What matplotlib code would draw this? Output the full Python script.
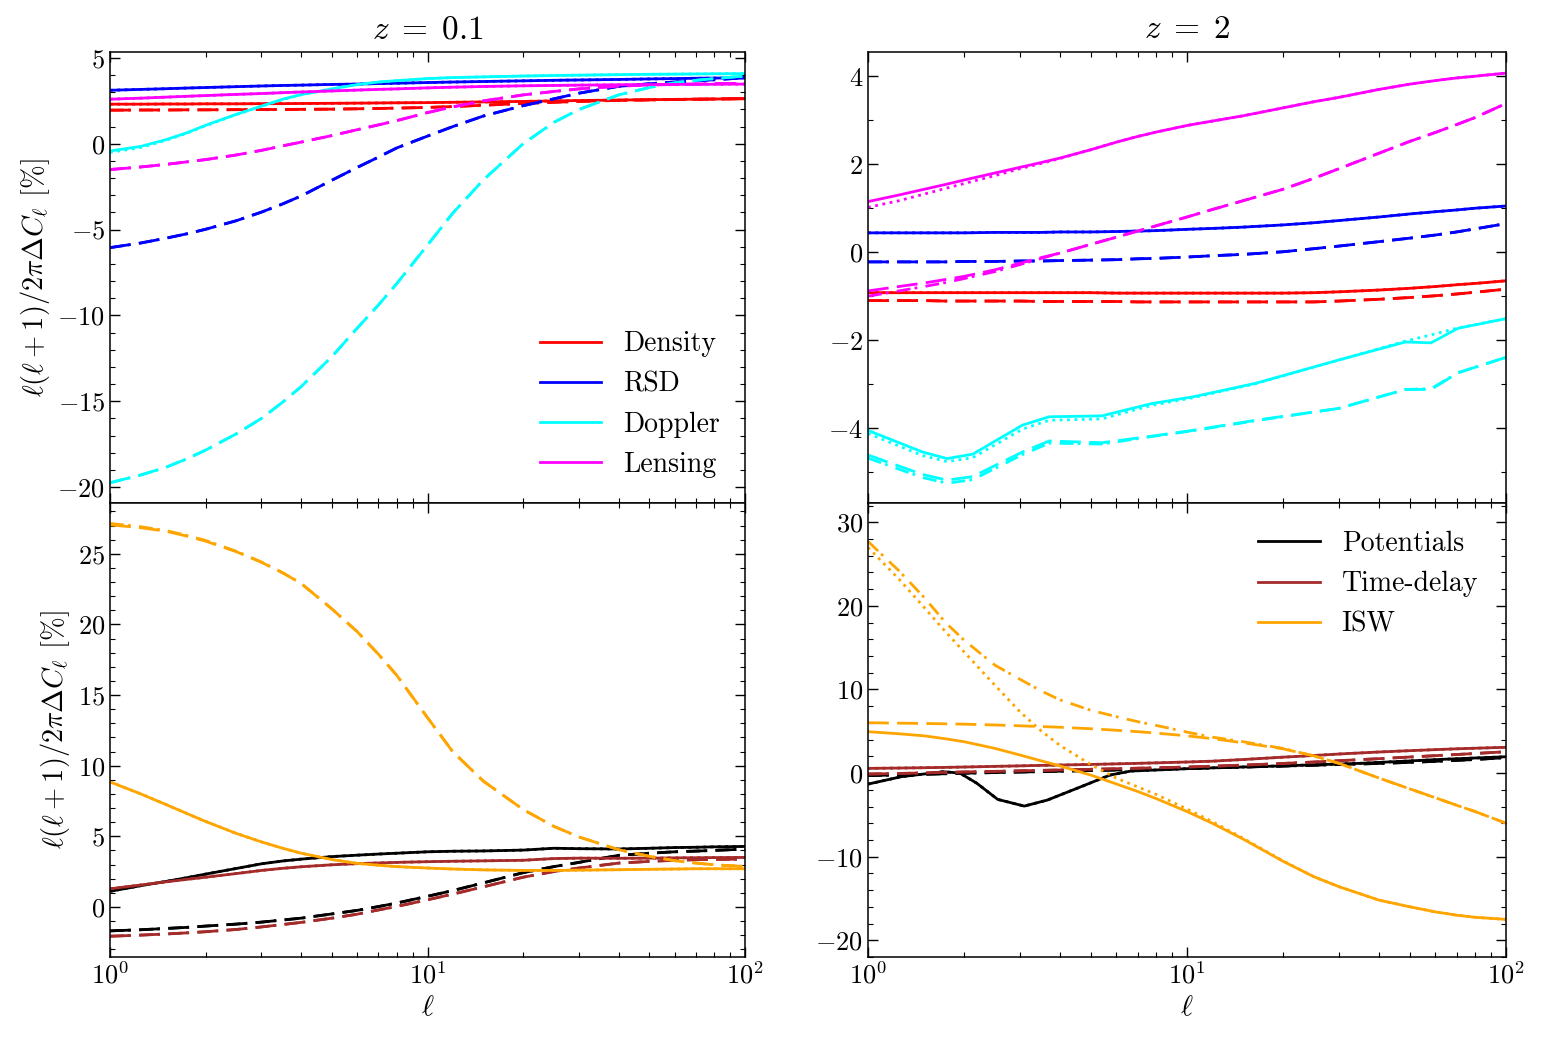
import matplotlib
matplotlib.use('Agg')
import matplotlib.pyplot as plt
from matplotlib.ticker import MultipleLocator, LogLocator, NullFormatter

plt.rcParams.update({
    'font.family': 'serif', 'font.serif': ['cmr10'], 'mathtext.fontset': 'cm',
    'axes.formatter.use_mathtext': True, 'font.size': 19,
})

# ---------------- data ----------------
ELL = [1, 1.25, 1.5, 1.75, 2, 2.5, 3, 3.5, 4, 5, 6, 7, 8, 10, 12, 15, 20, 25, 30, 40, 50, 60, 70, 80, 100]

# z = 0.1, top panel
tl_density_solid = [2.31, 2.31, 2.32, 2.32, 2.33, 2.33, 2.34, 2.34, 2.35, 2.36, 2.37, 2.38, 2.39, 2.40, 2.42, 2.44, 2.47, 2.50, 2.52, 2.55, 2.57, 2.59, 2.60, 2.61, 2.63]
tl_density_dashed = [1.96, 1.97, 1.97, 1.98, 1.98, 1.99, 2.00, 2.00, 2.01, 2.02, 2.04, 2.06, 2.08, 2.12, 2.17, 2.25, 2.35, 2.42, 2.47, 2.53, 2.56, 2.58, 2.60, 2.61, 2.63]
tl_rsd_solid = [3.12, 3.17, 3.21, 3.25, 3.28, 3.33, 3.37, 3.40, 3.42, 3.46, 3.48, 3.51, 3.53, 3.57, 3.60, 3.63, 3.67, 3.70, 3.72, 3.75, 3.78, 3.80, 3.82, 3.83, 3.85]
tl_rsd_dashed = [-6.05, -5.78, -5.50, -5.24, -4.98, -4.48, -3.98, -3.50, -3.04, -2.12, -1.38, -0.78, -0.24, 0.45, 1.00, 1.62, 2.22, 2.62, 2.95, 3.35, 3.50, 3.60, 3.67, 3.73, 3.85]
tl_doppler_solid = [-0.42, -0.15, 0.24, 0.65, 1.08, 1.72, 2.20, 2.60, 2.87, 3.20, 3.45, 3.60, 3.68, 3.80, 3.86, 3.90, 3.95, 3.98, 4.00, 4.03, 4.05, 4.06, 4.07, 4.08, 4.09]
tl_doppler_dotted = [-0.50, -0.22, 0.20, 0.62, 1.05, 1.70, 2.18, 2.58, 2.86, 3.20, 3.45, 3.60, 3.68, 3.80, 3.86, 3.90, 3.95, 3.98, 4.00, 4.03, 4.05, 4.06, 4.07, 4.08, 4.09]
tl_doppler_dashed = [-19.75, -19.30, -18.85, -18.35, -17.85, -16.90, -16.00, -15.05, -14.15, -12.40, -10.75, -9.40, -8.15, -5.90, -4.05, -2.10, 0.00, 1.25, 2.00, 2.85, 3.28, 3.55, 3.70, 3.80, 3.95]
tl_lensing_solid = [2.60, 2.66, 2.72, 2.77, 2.81, 2.88, 2.93, 2.98, 3.02, 3.08, 3.13, 3.17, 3.20, 3.26, 3.30, 3.34, 3.38, 3.40, 3.42, 3.44, 3.45, 3.46, 3.47, 3.47, 3.48]
tl_lensing_dashed = [-1.50, -1.35, -1.20, -1.05, -0.92, -0.65, -0.38, -0.12, 0.10, 0.48, 0.82, 1.10, 1.35, 1.82, 2.15, 2.50, 2.85, 3.05, 3.20, 3.36, 3.43, 3.46, 3.48, 3.50, 3.53]

# z = 2, top panel
tr_density_solid = [-0.92, -0.92, -0.92, -0.92, -0.92, -0.92, -0.92, -0.92, -0.92, -0.92, -0.93, -0.93, -0.93, -0.93, -0.93, -0.93, -0.93, -0.92, -0.90, -0.86, -0.82, -0.78, -0.74, -0.71, -0.65]
tr_density_dashed = [-1.10, -1.10, -1.10, -1.11, -1.11, -1.11, -1.11, -1.12, -1.12, -1.12, -1.12, -1.13, -1.13, -1.13, -1.13, -1.13, -1.13, -1.13, -1.11, -1.07, -1.03, -0.99, -0.95, -0.91, -0.84]
tr_rsd_solid = [0.44, 0.44, 0.44, 0.44, 0.44, 0.45, 0.45, 0.45, 0.46, 0.46, 0.47, 0.48, 0.49, 0.52, 0.54, 0.57, 0.62, 0.67, 0.72, 0.80, 0.87, 0.92, 0.96, 1.00, 1.05]
tr_rsd_dashed = [-0.22, -0.22, -0.22, -0.22, -0.21, -0.21, -0.20, -0.20, -0.19, -0.18, -0.17, -0.15, -0.14, -0.11, -0.08, -0.05, 0.01, 0.08, 0.14, 0.24, 0.32, 0.39, 0.46, 0.53, 0.65]
tr_lensing_solid = [1.15, 1.30, 1.43, 1.54, 1.64, 1.80, 1.93, 2.04, 2.14, 2.33, 2.50, 2.63, 2.73, 2.88, 2.98, 3.10, 3.28, 3.42, 3.52, 3.70, 3.82, 3.90, 3.96, 4.00, 4.07]
tr_lensing_dotted = [1.02, 1.17, 1.32, 1.45, 1.56, 1.74, 1.90, 2.02, 2.13, 2.33, 2.50, 2.63, 2.73, 2.88, 2.98, 3.10, 3.28, 3.42, 3.52, 3.70, 3.82, 3.90, 3.96, 4.00, 4.07]
tr_lensing_dashed = [-0.88, -0.78, -0.70, -0.62, -0.55, -0.40, -0.25, -0.12, -0.02, 0.18, 0.34, 0.48, 0.60, 0.80, 0.97, 1.17, 1.43, 1.68, 1.90, 2.25, 2.52, 2.72, 2.90, 3.06, 3.38]
tr_lensing_dashdot = [-1.00, -0.88, -0.78, -0.69, -0.60, -0.44, -0.28, -0.14, -0.02, 0.18, 0.34, 0.48, 0.60, 0.80, 0.97, 1.17, 1.43, 1.68, 1.90, 2.25, 2.52, 2.72, 2.90, 3.06, 3.38]
ELL_DOP = [1, 1.48, 1.77, 2.13, 3.05, 3.7, 5.4, 7.76, 10.4, 16.4, 29.9, 48.4, 58.2, 70.7, 100]
tr_doppler_solid = [-4.05, -4.54, -4.69, -4.59, -3.93, -3.74, -3.72, -3.44, -3.29, -2.98, -2.45, -2.04, -2.06, -1.73, -1.51]
tr_doppler_dotted = [-4.12, -4.62, -4.76, -4.67, -4.02, -3.82, -3.79, -3.48, -3.31, -2.99, -2.45, -2.02, -1.88, -1.72, -1.51]
tr_doppler_dashed = [-4.61, -5.05, -5.18, -5.10, -4.54, -4.29, -4.33, -4.18, -4.05, -3.82, -3.55, -3.12, -3.12, -2.74, -2.39]
tr_doppler_dashdot = [-4.68, -5.12, -5.25, -5.17, -4.60, -4.34, -4.36, -4.19, -4.06, -3.83, -3.55, -3.12, -3.10, -2.74, -2.39]

# z = 0.1, bottom panel
bl_pot_solid = [1.10, 1.50, 1.80, 2.07, 2.32, 2.72, 3.05, 3.25, 3.38, 3.56, 3.66, 3.74, 3.80, 3.90, 3.94, 3.96, 4.02, 4.15, 4.12, 4.10, 4.15, 4.20, 4.22, 4.25, 4.28]
bl_pot_dashed = [-1.70, -1.62, -1.53, -1.45, -1.36, -1.22, -1.08, -0.93, -0.80, -0.50, -0.25, 0.02, 0.27, 0.75, 1.15, 1.70, 2.42, 2.85, 3.15, 3.65, 3.80, 3.90, 3.95, 4.00, 4.09]
bl_td_solid = [1.28, 1.55, 1.77, 1.95, 2.10, 2.36, 2.58, 2.73, 2.84, 2.98, 3.06, 3.11, 3.15, 3.20, 3.23, 3.26, 3.30, 3.42, 3.45, 3.44, 3.45, 3.47, 3.48, 3.49, 3.50]
bl_td_dashed = [-2.08, -2.00, -1.92, -1.84, -1.76, -1.60, -1.42, -1.25, -1.10, -0.80, -0.52, -0.22, 0.03, 0.50, 0.90, 1.42, 2.10, 2.50, 2.75, 3.10, 3.22, 3.30, 3.34, 3.36, 3.38]
bl_isw_solid = [8.85, 8.00, 7.25, 6.60, 6.05, 5.20, 4.60, 4.15, 3.80, 3.35, 3.08, 2.95, 2.85, 2.75, 2.68, 2.62, 2.58, 2.58, 2.60, 2.63, 2.66, 2.68, 2.70, 2.70, 2.70]
bl_isw_dashed = [27.05, 26.85, 26.60, 26.25, 25.90, 25.15, 24.40, 23.65, 22.90, 21.10, 19.50, 17.90, 16.40, 13.40, 11.00, 8.90, 6.90, 5.70, 4.95, 4.05, 3.58, 3.27, 3.10, 2.98, 2.86]
bl_isw_dashdot = [27.15, 26.92, 26.65, 26.30, 25.95, 25.18, 24.42, 23.66, 22.90, 21.10, 19.50, 17.90, 16.40, 13.40, 11.00, 8.90, 6.90, 5.70, 4.95, 4.05, 3.58, 3.27, 3.10, 2.98, 2.86]

# z = 2, bottom panel
ELL_POT = [1, 1.27, 1.72, 1.94, 2.19, 2.55, 3.09, 3.65, 4.51, 5.74, 6.67, 10.5, 19.1, 34.8, 63, 100]
br_pot_solid = [-1.32, -0.44, 0.16, 0.00, -1.20, -3.15, -3.95, -3.23, -1.84, -0.24, 0.24, 0.56, 0.84, 1.16, 1.64, 1.95]
br_pot_dashed = [-0.30, -0.22, -0.15, -0.08, -0.02, 0.06, 0.12, 0.18, 0.22, 0.30, 0.36, 0.42, 0.46, 0.55, 0.62, 0.72, 0.84, 0.94, 1.02, 1.15, 1.28, 1.40, 1.52, 1.62, 1.85]
br_td_solid = [0.56, 0.60, 0.64, 0.68, 0.72, 0.80, 0.86, 0.92, 0.96, 1.03, 1.10, 1.16, 1.22, 1.32, 1.42, 1.62, 1.90, 2.10, 2.28, 2.52, 2.68, 2.80, 2.90, 2.97, 3.08]
br_td_dashed = [-0.12, -0.05, 0.02, 0.08, 0.13, 0.20, 0.27, 0.32, 0.37, 0.45, 0.52, 0.58, 0.63, 0.72, 0.82, 0.95, 1.15, 1.32, 1.48, 1.72, 1.92, 2.08, 2.22, 2.34, 2.55]
br_isw_solid = [4.95, 4.70, 4.45, 4.10, 3.75, 2.95, 2.15, 1.45, 0.85, -0.25, -1.30, -2.20, -3.05, -4.60, -6.00, -7.90, -10.55, -12.40, -13.60, -15.20, -16.00, -16.60, -17.00, -17.25, -17.50]
br_isw_dotted = [27.00, 23.20, 19.80, 16.90, 14.50, 10.50, 7.30, 5.00, 3.30, 1.00, -0.60, -1.65, -2.55, -4.30, -5.80, -7.80, -10.50, -12.40, -13.60, -15.20, -16.00, -16.60, -17.00, -17.25, -17.50]
br_isw_dashed = [6.02, 5.97, 5.93, 5.89, 5.85, 5.75, 5.65, 5.56, 5.48, 5.30, 5.12, 4.95, 4.78, 4.45, 4.12, 3.62, 2.90, 2.05, 1.15, -0.60, -1.90, -2.95, -3.85, -4.60, -6.00]
br_isw_dashdot = [27.70, 24.20, 21.00, 18.00, 15.90, 12.90, 11.20, 9.80, 8.75, 7.50, 6.75, 6.15, 5.70, 4.90, 4.30, 3.75, 2.95, 2.05, 1.15, -0.60, -1.90, -2.95, -3.85, -4.60, -6.00]

labels_top = ['Density', 'RSD', 'Doppler', 'Lensing']
labels_bot = ['Potentials', 'Time-delay', 'ISW']
titles = [r'$z\;=\;0.1$', r'$z\;=\;2$']
colors_top = ['red', 'blue', 'cyan', 'magenta']
colors_bot = ['black', 'brown', 'orange']

# ---------------- figure ----------------
fig = plt.figure(figsize=(15.41, 10.40), dpi=100)
xl = [110 / 1541, 868 / 1541]
wd = [635 / 1541, 638 / 1541]
ax_tl = fig.add_axes([xl[0], 1 - 503 / 1040, wd[0], 451 / 1040])
ax_tr = fig.add_axes([xl[1], 1 - 503 / 1040, wd[1], 451 / 1040])
ax_bl = fig.add_axes([xl[0], 1 - 957 / 1040, wd[0], 454 / 1040])
ax_br = fig.add_axes([xl[1], 1 - 957 / 1040, wd[1], 454 / 1040])

LW = 2.0
styles = {'solid': '-', 'dotted': (0, (1, 1.65)), 'dashed': (0, (7.5, 3)),
          'dashdot': (0, (5, 1.5, 1, 3))}


def draw(ax, x, y, c, s, label=None):
    ax.plot(x, y, color=c, lw=LW, linestyle=styles[s], label=label)


# top-left
tl_sets = [
    (tl_density_solid, tl_density_solid, tl_density_dashed, tl_density_dashed),
    (tl_rsd_solid, tl_rsd_solid, tl_rsd_dashed, tl_rsd_dashed),
    (tl_doppler_solid, tl_doppler_dotted, tl_doppler_dashed, tl_doppler_dashed),
    (tl_lensing_solid, tl_lensing_solid, tl_lensing_dashed, tl_lensing_dashed),
]
for (s, d, da, dd), c, lab in zip(tl_sets, colors_top, labels_top):
    draw(ax_tl, ELL, s, c, 'solid', lab)
    draw(ax_tl, ELL, d, c, 'dotted')
    draw(ax_tl, ELL, da, c, 'dashed')
    draw(ax_tl, ELL, dd, c, 'dashdot')

# top-right
draw(ax_tr, ELL, tr_density_solid, 'red', 'solid')
draw(ax_tr, ELL, tr_density_solid, 'red', 'dotted')
draw(ax_tr, ELL, tr_density_dashed, 'red', 'dashed')
draw(ax_tr, ELL, tr_density_dashed, 'red', 'dashdot')
draw(ax_tr, ELL, tr_rsd_solid, 'blue', 'solid')
draw(ax_tr, ELL, tr_rsd_solid, 'blue', 'dotted')
draw(ax_tr, ELL, tr_rsd_dashed, 'blue', 'dashed')
draw(ax_tr, ELL, tr_rsd_dashed, 'blue', 'dashdot')
draw(ax_tr, ELL_DOP, tr_doppler_solid, 'cyan', 'solid')
draw(ax_tr, ELL_DOP, tr_doppler_dotted, 'cyan', 'dotted')
draw(ax_tr, ELL_DOP, tr_doppler_dashed, 'cyan', 'dashed')
draw(ax_tr, ELL_DOP, tr_doppler_dashdot, 'cyan', 'dashdot')
draw(ax_tr, ELL, tr_lensing_solid, 'magenta', 'solid')
draw(ax_tr, ELL, tr_lensing_dotted, 'magenta', 'dotted')
draw(ax_tr, ELL, tr_lensing_dashed, 'magenta', 'dashed')
draw(ax_tr, ELL, tr_lensing_dashdot, 'magenta', 'dashdot')

# bottom-left
bl_sets = [
    (bl_pot_solid, bl_pot_solid, bl_pot_dashed, bl_pot_dashed),
    (bl_td_solid, bl_td_solid, bl_td_dashed, bl_td_dashed),
    (bl_isw_solid, bl_isw_solid, bl_isw_dashed, bl_isw_dashdot),
]
for (s, d, da, dd), c in zip(bl_sets, colors_bot):
    draw(ax_bl, ELL, s, c, 'solid')
    draw(ax_bl, ELL, d, c, 'dotted')
    draw(ax_bl, ELL, da, c, 'dashed')
    draw(ax_bl, ELL, dd, c, 'dashdot')

# bottom-right
draw(ax_br, ELL_POT, br_pot_solid, 'black', 'solid', labels_bot[0])
draw(ax_br, ELL_POT, br_pot_solid, 'black', 'dotted')
draw(ax_br, ELL, br_pot_dashed, 'black', 'dashed')
draw(ax_br, ELL, br_pot_dashed, 'black', 'dashdot')
draw(ax_br, ELL, br_td_solid, 'brown', 'solid', labels_bot[1])
draw(ax_br, ELL, br_td_solid, 'brown', 'dotted')
draw(ax_br, ELL, br_td_dashed, 'brown', 'dashed')
draw(ax_br, ELL, br_td_dashed, 'brown', 'dashdot')
draw(ax_br, ELL, br_isw_solid, 'orange', 'solid', labels_bot[2])
draw(ax_br, ELL, br_isw_dotted, 'orange', 'dotted')
draw(ax_br, ELL, br_isw_dashed, 'orange', 'dashed')
draw(ax_br, ELL, br_isw_dashdot, 'orange', 'dashdot')

# axes formatting
ylims = {ax_tl: (-20.93, 5.35), ax_tr: (-5.7, 4.55), ax_bl: (-3.55, 28.6), ax_br: (-22.0, 32.3)}
ymaj = {ax_tl: 5, ax_tr: 2, ax_bl: 5, ax_br: 10}
ymin = {ax_tl: 1, ax_tr: 1, ax_bl: 1, ax_br: 2}
for ax in [ax_tl, ax_tr, ax_bl, ax_br]:
    ax.set_xscale('log')
    ax.set_xlim(1, 100)
    ax.set_ylim(*ylims[ax])
    ax.yaxis.set_major_locator(MultipleLocator(ymaj[ax]))
    ax.yaxis.set_minor_locator(MultipleLocator(ymin[ax]))
    ax.xaxis.set_major_locator(LogLocator(base=10, numticks=10))
    ax.xaxis.set_minor_locator(LogLocator(base=10, subs=range(2, 10), numticks=20))
    ax.xaxis.set_minor_formatter(NullFormatter())
    ax.tick_params(which='both', direction='in', top=True, right=True, labelsize=19)
    ax.tick_params(which='major', length=7, width=1.0)
    ax.tick_params(which='minor', length=3.5, width=0.8)
    for sp in ax.spines.values():
        sp.set_linewidth(1.1)

for ax in [ax_tl, ax_tr]:
    ax.tick_params(labelbottom=False)

ax_tl.set_title(titles[0], fontsize=24, pad=10)
ax_tr.set_title(titles[1], fontsize=24, pad=10)
ylab = r'$\ell(\ell+1)/2\pi\Delta C_\ell$ [%]'
ax_tl.set_ylabel(ylab, fontsize=20.5, labelpad=4)
ax_bl.set_ylabel(ylab, fontsize=20.5, labelpad=4)
ax_bl.set_xlabel(r'$\ell$', fontsize=21, labelpad=4)
ax_br.set_xlabel(r'$\ell$', fontsize=21, labelpad=4)

# legends
h, l = ax_tl.get_legend_handles_labels()
ax_tl.legend(h, l, loc='lower right', frameon=False, fontsize=20, handlelength=2.2,
             handletextpad=0.8, labelspacing=0.5, borderaxespad=0.5)
h, l = ax_br.get_legend_handles_labels()
ax_br.legend(h, l, loc='upper right', frameon=False, fontsize=20, handlelength=2.2,
             handletextpad=0.8, labelspacing=0.5, borderaxespad=0.6)

fig.savefig('out.png', dpi=100)
